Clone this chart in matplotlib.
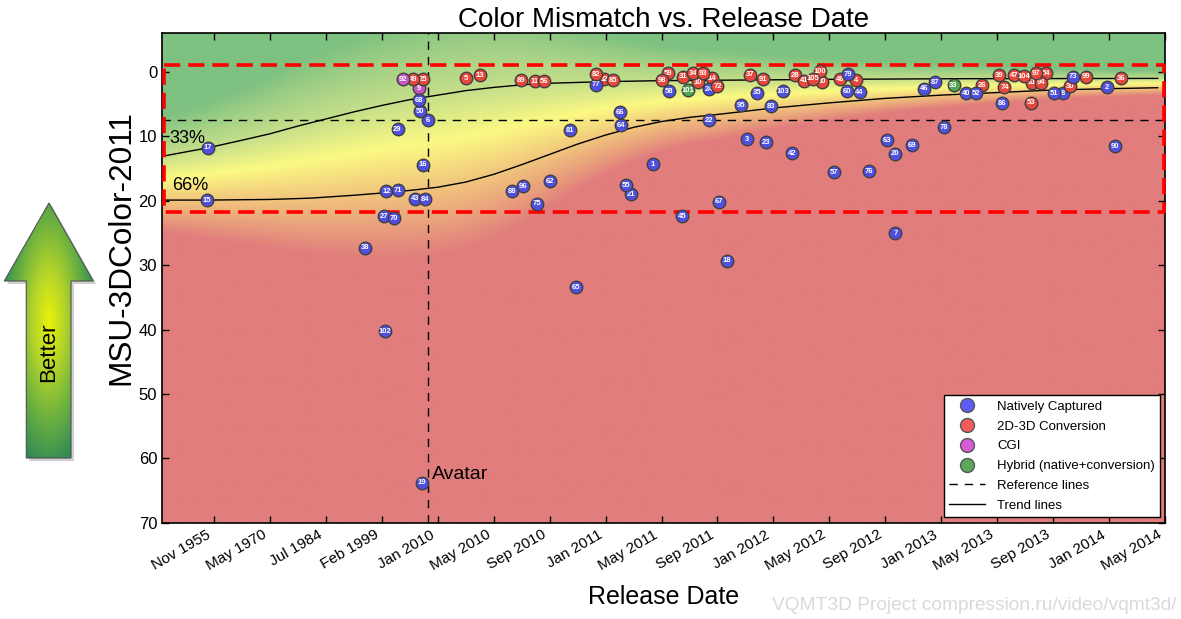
import numpy as np
import matplotlib.pyplot as plt
from matplotlib.colors import LinearSegmentedColormap
from matplotlib.lines import Line2D
from matplotlib.patches import Polygon

plt.rcParams['font.family'] = ['Liberation Sans', 'DejaVu Sans']

# date axis is piecewise: one step per tick, x values are in tick units
tick_labels = ['Nov 1955', 'May 1970', 'Jul 1984', 'Feb 1999', 'Jan 2010', 'May 2010',
               'Sep 2010', 'Jan 2011', 'May 2011', 'Sep 2011', 'Jan 2012', 'May 2012',
               'Sep 2012', 'Jan 2013', 'May 2013', 'Sep 2013', 'Jan 2014', 'May 2014']

native_id = [68, 50, 6, 29, 17, 16, 12, 71, 43, 84, 15, 27, 70, 38, 102, 19, 65, 75, 88, 96,
             62, 81, 77, 66, 64, 55, 21, 1, 45, 58, 24, 22, 67, 18, 95, 3, 35, 23, 83, 103,
             42, 57, 79, 60, 44, 76, 63, 7, 20, 69, 46, 87, 78, 40, 52, 86, 51, 8, 73, 2, 90]
native_x = [3.66, 3.69, 3.82, 3.28, -0.11, 3.73, 3.08, 3.29, 3.59, 3.77, -0.13, 3.04, 3.22,
            2.70, 3.06, 3.72, 6.47, 5.77, 5.32, 5.52, 6.01, 6.36, 6.82, 7.26, 7.28, 7.36,
            7.45, 7.85, 8.36, 8.14, 8.84, 8.84, 9.02, 9.17, 9.42, 9.53, 9.70, 9.87, 9.95,
            10.17, 10.34, 11.09, 11.34, 11.31, 11.54, 11.71, 12.03, 12.18, 12.18, 12.47,
            12.69, 12.88, 13.05, 13.45, 13.63, 14.08, 15.01, 15.18, 15.35, 15.97, 16.10]
native_y = [4.36, 6.07, 7.47, 8.91, 11.77, 14.41, 18.54, 18.34, 19.69, 19.78, 19.94, 22.38,
            22.73, 27.30, 40.23, 63.79, 33.45, 20.43, 18.49, 17.72, 16.99, 9.02, 1.99, 6.23,
            8.29, 17.61, 19.01, 14.35, 22.42, 2.97, 2.70, 7.47, 20.16, 29.32, 5.19, 10.47,
            3.23, 10.89, 5.34, 3.01, 12.64, 15.59, 0.33, 2.97, 3.17, 15.43, 10.62, 25.06,
            12.70, 11.40, 2.61, 1.61, 8.60, 3.32, 3.32, 4.83, 3.28, 3.28, 0.75, 2.34, 11.55]

conv_id = [49, 25, 5, 13, 89, 11, 56, 82, 32, 85, 98, 59, 31, 34, 93, 10, 14, 72, 37, 91,
           28, 41, 105, 100, 80, 48, 4, 26, 39, 74, 47, 104, 97, 54, 61, 94, 53, 30, 99, 36]
conv_x = [3.56, 3.74, 4.51, 4.75, 5.48, 5.73, 5.90, 6.82, 6.97, 7.14, 8.00, 8.12, 8.38,
          8.57, 8.74, 8.65, 8.90, 9.00, 9.59, 9.81, 10.39, 10.54, 10.70, 10.83, 10.87,
          11.19, 11.47, 13.73, 14.03, 14.13, 14.30, 14.48, 14.70, 14.88, 14.62, 14.79,
          14.60, 15.30, 15.58, 16.22]
conv_y = [1.15, 1.15, 0.95, 0.48, 1.30, 1.46, 1.46, 0.37, 1.15, 1.30, 1.30, 0.22, 0.75,
          0.22, 0.22, 1.61, 0.99, 2.19, 0.43, 1.15, 0.53, 1.37, 1.06, -0.09, 1.52, 1.15,
          1.26, 2.08, 0.48, 2.39, 0.53, 0.68, 0.22, 0.22, 1.68, 1.68, 4.78, 2.24, 0.75, 0.99]

cgi_id = [92, 9]
cgi_x = [3.38, 3.66]
cgi_y = [1.15, 2.55]

hybrid_id = [101, 33]
hybrid_x = [8.48, 13.22]
hybrid_y = [2.81, 2.08]

trend33_x = [-0.93, -0.12, 0.5, 1.0, 1.5, 2.0, 2.5, 3.0, 3.5, 4.0, 4.5, 5.0, 5.5, 6.0,
             7.0, 8.0, 9.4, 11.0, 13.17, 16.87]
trend33_y = [13.1, 11.8, 10.6, 9.6, 8.4, 7.3, 6.2, 5.2, 4.3, 3.6, 2.9, 2.4, 2.0, 1.75,
             1.5, 1.35, 1.26, 1.15, 1.05, 1.0]
trend66_x = [-0.93, -0.12, 1.0, 1.72, 2.5, 3.0, 3.5, 4.0, 4.5, 5.0, 5.5, 6.0, 6.5, 7.0,
             7.5, 8.0, 8.5, 9.0, 9.5, 10.0, 11.0, 12.0, 13.0, 14.0, 15.0, 16.0, 16.87]
trend66_y = [19.9, 19.9, 19.8, 19.6, 19.15, 18.8, 18.4, 17.9, 17.1, 15.9, 14.4, 12.8, 11.2,
             9.8, 8.6, 7.7, 7.05, 6.6, 6.1, 5.6, 4.8, 4.1, 3.6, 3.2, 2.8, 2.6, 2.45]

ref_y = 7.5
avatar_x = 3.82
box = (-0.9, 16.98, -1.1, 21.8)

colors = {'native': '#5050e0', 'conv': '#e8483c', 'cgi': '#c855c8', 'hybrid': '#52a552'}

fig = plt.figure(figsize=(11.81, 6.19), dpi=100)
ax = fig.add_axes([162 / 1181, 1 - 522.7 / 619, 1003 / 1181, 489.7 / 619])
xmin, xmax, ymin, ymax = -0.93, 17.0, -6.05, 70

# background: colour by position relative to the two trend lines
xs = np.linspace(xmin, xmax, 500)
ys = np.linspace(ymin, ymax, 600)
l33 = np.interp(xs, trend33_x, trend33_y)
l66 = np.interp(xs, trend66_x, trend66_y)
s = (ys[:, None] - l33[None, :]) / (l66 - l33)[None, :]
nodes = [(-0.9, '#7ec181'), (0.0, '#c6df8a'), (0.5, '#fbf983'), (1.1, '#efbb7c'), (1.75, '#e17d7d')]
lo, hi = nodes[0][0], nodes[-1][0]
cmap = LinearSegmentedColormap.from_list('bg', [((v - lo) / (hi - lo), c) for v, c in nodes])
t = np.clip((s - lo) / (hi - lo), 0, 1)
ax.imshow(cmap(t), extent=[xmin, xmax, ymin, ymax], origin='lower', aspect='auto',
          interpolation='bilinear', zorder=0)

ax.plot(trend33_x, trend33_y, color='black', lw=1, zorder=3)
ax.plot(trend66_x, trend66_y, color='black', lw=1, zorder=3)
ax.axhline(ref_y, color='black', lw=1, ls=(0, (6, 5)), zorder=3)
ax.axvline(avatar_x, color='black', lw=1, ls=(0, (6, 5)), zorder=3)

bx0, bx1, by0, by1 = box
ax.plot([bx0, bx1, bx1, bx0, bx0], [by0, by0, by1, by1, by0], color='#ff0000', lw=2.6,
        ls=(0, (4.5, 2.2)), zorder=4, clip_on=False)

pts = []
for ids, xv, yv, key in [(native_id, native_x, native_y, 'native'),
                         (conv_id, conv_x, conv_y, 'conv'),
                         (cgi_id, cgi_x, cgi_y, 'cgi'),
                         (hybrid_id, hybrid_x, hybrid_y, 'hybrid')]:
    for i, x, y in zip(ids, xv, yv):
        pts.append((i, x, y, colors[key]))
pts.sort()
for k, (i, x, y, c) in enumerate(pts):
    z = 10 + 2 * k
    ax.plot(x, y, 'o', ms=9, mfc=c, mec='#404040', mew=1.0, zorder=z)
    ax.text(x, y, str(i), fontsize=5.5, color='white', fontweight='bold',
            ha='center', va='center', zorder=z + 1)

ax.text(-0.8, 11.0, '33%', fontsize=13)
ax.text(-0.75, 18.3, '66%', fontsize=13)
ax.text(avatar_x + 0.08, 63.2, 'Avatar', fontsize=14)

ax.set_xlim(xmin, xmax)
ax.set_ylim(ymax, ymin)
ax.set_xticks(range(len(tick_labels)))
ax.set_xticklabels([])
for i, lab in enumerate(tick_labels):
    ax.annotate(lab, xy=(i, 0), xycoords=ax.get_xaxis_transform(), xytext=(-8, -5),
                textcoords='offset pixels', rotation=30, ha='right', va='top',
                rotation_mode='anchor', fontsize=11, annotation_clip=False)
ax.set_yticks(range(0, 71, 10))
ax.tick_params(axis='y', labelsize=12)
ax.tick_params(direction='in', top=True, right=True, length=5, width=1)
for sp in ax.spines.values():
    sp.set_linewidth(1.2)
ax.set_title('Color Mismatch vs. Release Date', fontsize=20, pad=4)
ax.set_xlabel('Release Date', fontsize=18, labelpad=41)
ax.set_ylabel('MSU-3DColor-2011', fontsize=22.7)
ax.yaxis.set_label_coords(-0.026, 0.561)

handles = [Line2D([], [], marker='o', ls='none', ms=10, mfc=c, mec='#555555')
           for c in ['#5b5bf5', '#f55b5b', '#d65bd6', '#5ba85b']]
handles += [Line2D([], [], color='black', lw=1, ls=(0, (6, 5))),
            Line2D([], [], color='black', lw=1)]
leg = ax.legend(handles, ['Natively Captured', '2D-3D Conversion', 'CGI',
                          'Hybrid (native+conversion)', 'Reference lines', 'Trend lines'],
                loc='lower right', bbox_to_anchor=(0.995, 0.0116), borderaxespad=0,
                fontsize=9.5, fancybox=False, framealpha=1, edgecolor='black', borderpad=0.4,
                labelspacing=0.57, handlelength=2.7, handletextpad=0.9)
leg.set_zorder(300)
leg.get_frame().set_linewidth(1)

fig.text(1177 / 1181, 1 - 606 / 619, 'VQMT3D Project compression.ru/video/vqmt3d/',
         ha='right', va='center', fontsize=13.8, color='#d9d9d9')

# "Better" arrow on the left, drawn in pixel coordinates
aax = fig.add_axes([0, 1 - 470 / 619, 100 / 1181, 275 / 619])
aax.set_xlim(0, 100)
aax.set_ylim(470, 195)
aax.axis('off')
verts = [(49, 203), (93.3, 281), (71, 281), (71, 458), (26.3, 458), (26.3, 281), (4.3, 281)]
shadow = Polygon([(vx + 3, vy + 3) for vx, vy in verts], closed=True, fc='#d0d0d0', ec='none')
aax.add_patch(shadow)
gx, gy = np.meshgrid(np.linspace(0, 100, 200), np.linspace(195, 470, 400))
r = np.sqrt(((gx - 49) / 48) ** 2 + ((gy - 320) / 150) ** 2)
acmap = LinearSegmentedColormap.from_list('arr', ['#e8f20a', '#b4d42a', '#6cb040', '#2e8a55'])
img = aax.imshow(acmap(np.clip(r, 0, 1)), extent=[0, 100, 470, 195], aspect='auto', zorder=2)
arrow = Polygon(verts, closed=True, fc='none', ec='#505050', lw=0.8, zorder=3)
aax.add_patch(arrow)
img.set_clip_path(arrow)
aax.text(49, 352, 'Better', rotation=90, ha='center', va='center', fontsize=16, zorder=4)

fig.savefig('out.png', dpi=100)
